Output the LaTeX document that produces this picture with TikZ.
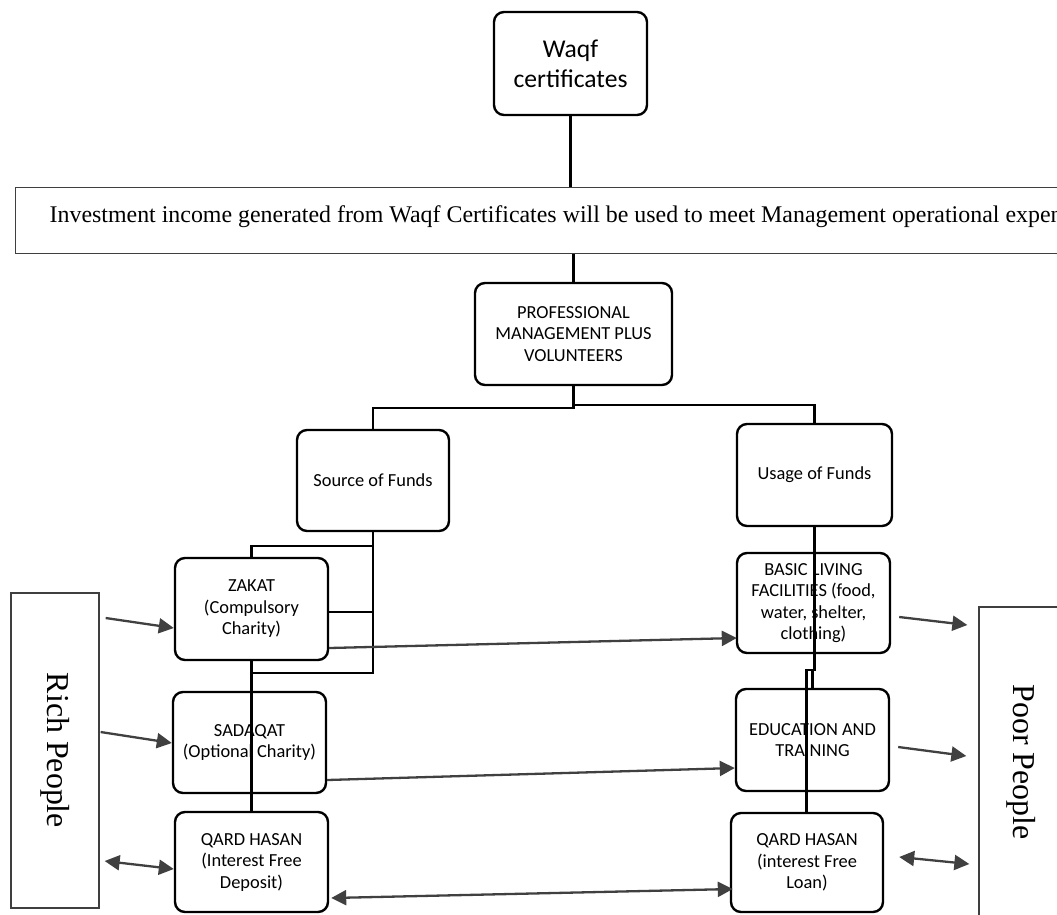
\documentclass[tikz,border=0pt]{standalone}
\usepackage{fontspec}
\setmainfont{Liberation Serif}
\newfontfamily\boxfont{Carlito}
\usetikzlibrary{arrows.meta,calc}
\definecolor{arrowgray}{HTML}{404040}
\definecolor{framegray}{HTML}{3F3F3F}

\begin{document}
\begin{tikzpicture}[x=1pt,y=-1pt,
  flow/.style={draw=black, line width=2.4pt, rounded corners=10pt, align=center,
    font=\boxfont\fontsize{18.4}{21.5}\selectfont, inner sep=0pt},
  side/.style={draw=framegray, line width=1.3pt, inner sep=0pt},
  link/.style={line width=2.4pt},
  feed/.style={draw=arrowgray, line width=2.3pt, -{Triangle[length=15pt,width=15pt]}},
  swap/.style={draw=arrowgray, line width=2.3pt,
    {Triangle[length=15pt,width=15pt]}-{Triangle[length=15pt,width=15pt]}}]

\useasboundingbox (0,0) rectangle (1057,914);
\clip (0,0) rectangle (1057,914);

% top of the hierarchy
\node[flow, font=\boxfont\fontsize{25.6}{30}\selectfont,
      minimum width=153pt, minimum height=103pt] (waqf) at (570.5,63.5) {Waqf\\certificates};
\node[side, anchor=north west, minimum height=66pt, inner xsep=34pt,
      text height=17pt, text depth=13pt,
      font=\fontsize{23.9}{28}\selectfont] (income) at (15,187)
      {\mbox{Investment income generated from Waqf Certificates will be used to meet Management operational expenses}};
\node[flow, minimum width=197pt, minimum height=102pt] (prof) at (573.5,334)
      {PROFESSIONAL\\MANAGEMENT PLUS\\VOLUNTEERS};

% the two branches
\node[flow, minimum width=152pt, minimum height=101pt] (source) at (373,480.5) {Source of Funds};
\node[flow, minimum width=155pt, minimum height=102pt] (usage) at (814.5,475) {Usage of Funds};

% sources
\node[flow, minimum width=153pt, minimum height=102pt] (zakat) at (251.5,609)
      {ZAKAT\\(Compulsory\\Charity)};
\node[flow, minimum width=153pt, minimum height=101pt] (sadaqat) at (249.5,742.5)
      {SADAQAT\\(Optional Charity)};
\node[flow, minimum width=153pt, minimum height=100pt] (qardL) at (251.5,862)
      {QARD HASAN\\(Interest Free\\Deposit)};

% usages
\node[flow, minimum width=153pt, minimum height=100pt] (basic) at (813.5,603)
      {BASIC LIVING\\FACILITIES (food,\\water, shelter,\\clothing)};
\node[flow, minimum width=153pt, minimum height=102pt] (edu) at (812.5,740)
      {EDUCATION AND\\TRAINING};
\node[flow, minimum width=152pt, minimum height=99pt] (qardR) at (807,862.5)
      {QARD HASAN\\(interest Free\\Loan)};

% the two groups of people
\node[side, minimum width=88pt, minimum height=315pt] (rich) at (55,750.5)
      {\rotatebox{-90}{\fontsize{31.9}{36}\selectfont Rich People}};
\node[side, minimum width=84pt, minimum height=310pt] (poor) at (1021,762)
      {\rotatebox{-90}{\fontsize{31.9}{36}\selectfont Poor People}};

% tree connectors
\draw[link] (waqf.south) -- (waqf.south |- income.north);
\draw[link] (prof.north) -- (prof.north |- income.south);
\draw[link] (prof.south) -- ++(0,22) -| (source.north);
\draw[link] ($(prof.south)+(0,19)$) -| (usage.north);

\draw[link] (source.south) -- ++(0,141) -| (zakat.south);
\draw[link] ($(source.south)+(0,14)$) -| (zakat.north);
\coordinate (zk) at ($(zakat.east)+(0,3)$);
\draw[link] (zk) -- (zk -| source.south);
\draw[link] (zakat.south) -- (qardL.north);

\draw[link] (usage.south) -- ++(0,143) -- ++(-8,0) coordinate (jogL) -- (jogL |- qardR.north);
\coordinate (jogR) at ($(jogL)+(6,0)$);
\draw[link] (jogR) -- (jogR |- edu.north);

% flows from the rich
\draw[feed] ($(rich.east)+(6,-132.5)$) -- ($(zakat.west)+(0,19)$);
\draw[feed] ($(rich.east)+(1,-18.5)$) -- ($(sadaqat.west)+(0,0.5)$);
\draw[swap] ($(rich.east)+(5,110.5)$) -- ($(qardL.west)+(0,7)$);

% flows across
\draw[feed] ($(zakat.east)+(0,39)$) -- ($(basic.west)+(1,35)$);
\draw[feed] ($(sadaqat.east)+(0,37.5)$) -- ($(edu.west)+(0,28)$);
\draw[swap] ($(qardL.east)+(2,36)$) -- ($(qardR.west)+(3,26.5)$);

% flows to the poor
\draw[feed] ($(basic.east)+(8,14)$) -- ($(poor.west)+(-11,-137)$);
\draw[feed] ($(edu.east)+(8,7)$) -- ($(poor.west)+(-12,-6)$);
\draw[swap] ($(qardR.east)+(15,-5.5)$) -- ($(poor.west)+(-9,102)$);
\end{tikzpicture}
\end{document}
